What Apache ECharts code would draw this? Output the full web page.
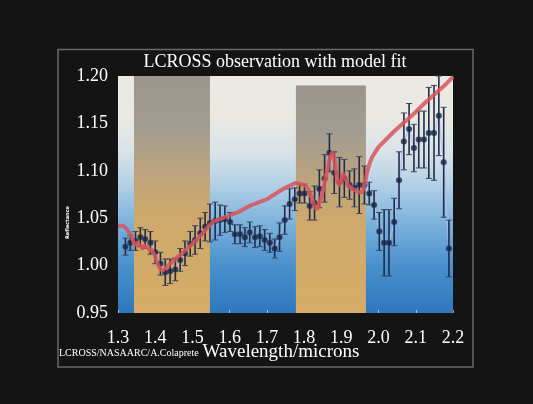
<!DOCTYPE html>
<html>
<head>
<meta charset="utf-8">
<script src="https://cdn.jsdelivr.net/npm/echarts@6/dist/echarts.min.js"></script>
<style>
html,body{margin:0;padding:0;background:#141414;}
#chart{width:533px;height:404px;}
</style>
</head>
<body>
<div id="chart"></div>
<script>
// Observed spectrum (wavelength in microns, relative reflectance, half error bar)
const wavelength = [1.320,1.333,1.347,1.360,1.373,1.387,1.400,1.414,1.427,1.440,1.454,1.467,1.480,1.494,1.507,1.521,1.534,1.547,1.561,1.574,
  1.587,1.601,1.614,1.628,1.641,1.654,1.668,1.681,1.694,1.708,1.721,1.734,1.748,1.761,1.775,1.788,1.801,1.815,1.828,1.841,
  1.855,1.868,1.881,1.895,1.908,1.922,1.935,1.948,1.962,1.975,1.988,2.002,2.015,2.028,2.042,2.055,2.068,2.082,2.095,2.108,
  2.122,2.135,2.149,2.162,2.175,2.189];
const ratio = [1.020,1.024,1.026,1.030,1.028,1.024,1.014,1.002,0.993,0.994,0.996,1.006,1.013,1.023,1.027,1.034,1.041,1.045,1.047,1.048,
  1.049,1.046,1.033,1.033,1.030,1.035,1.030,1.031,1.027,1.024,1.018,1.030,1.048,1.065,1.070,1.076,1.076,1.063,1.066,1.081,
  1.092,1.119,1.098,1.088,1.092,1.085,1.082,1.085,1.085,1.076,1.064,1.036,1.024,1.024,1.046,1.090,1.131,1.144,1.124,1.133,
  1.133,1.140,1.140,1.158,1.109,1.018];
const errHalf = [0.009,0.008,0.010,0.010,0.010,0.012,0.012,0.012,0.014,0.013,0.012,0.012,0.013,0.013,0.015,0.016,0.015,0.020,0.020,0.016,
  0.014,0.010,0.010,0.010,0.010,0.011,0.011,0.011,0.011,0.010,0.010,0.015,0.015,0.016,0.012,0.010,0.010,0.015,0.018,0.020,
  0.025,0.020,0.022,0.026,0.020,0.015,0.020,0.030,0.020,0.012,0.015,0.020,0.035,0.035,0.025,0.030,0.030,0.027,0.025,0.030,
  0.030,0.048,0.050,0.042,0.058,0.030];

// Model fit curve
const modelX = [1.300,1.310,1.320,1.330,1.340,1.345,1.350,1.355,1.360,1.365,1.370,1.375,1.380,1.385,1.390,1.395,1.400,1.405,1.410,1.415,
  1.420,1.430,1.440,1.450,1.460,1.470,1.480,1.490,1.500,1.510,1.520,1.530,1.540,1.550,1.560,1.580,1.600,1.620,1.640,1.660,
  1.680,1.700,1.720,1.740,1.760,1.770,1.780,1.790,1.800,1.810,1.820,1.825,1.830,1.835,1.840,1.850,1.860,1.870,1.875,1.880,
  1.885,1.890,1.895,1.900,1.905,1.910,1.920,1.930,1.940,1.950,1.955,1.960,1.965,1.970,1.980,1.990,2.000,2.020,2.040,2.060,
  2.080,2.100,2.120,2.140,2.160,2.180,2.200];
const modelY = [1.042,1.042,1.040,1.035,1.027,1.022,1.024,1.021,1.022,1.018,1.021,1.019,1.020,1.016,1.017,1.013,1.010,1.004,0.999,0.996,
  0.995,0.998,1.002,1.005,1.009,1.012,1.016,1.019,1.023,1.027,1.031,1.035,1.040,1.044,1.047,1.050,1.053,1.056,1.060,1.064,
  1.067,1.070,1.075,1.080,1.084,1.086,1.087,1.086,1.085,1.081,1.072,1.066,1.061,1.060,1.064,1.078,1.097,1.114,1.119,1.116,
  1.102,1.088,1.085,1.090,1.097,1.093,1.084,1.081,1.079,1.077,1.078,1.082,1.090,1.100,1.112,1.119,1.125,1.133,1.141,1.148,
  1.155,1.162,1.170,1.177,1.184,1.191,1.199];

// Absorption bands
const bandStart = [1.343, 1.778];
const bandEnd = [1.547, 1.966];
const bandTop = [1.20, 1.19];

// Axis settings
const xMin = 1.3, xMax = 2.2, xStep = 0.1;
const yMin = 0.95, yMax = 1.20, yStep = 0.05;

const chart = echarts.init(document.getElementById('chart'), null, {renderer: 'canvas'});
const serif = "'Liberation Serif', 'DejaVu Serif', serif";

const bandGradient = () => new echarts.graphic.LinearGradient(0, 0, 0, 1, [
  {offset: 0, color: '#9a948d'},
  {offset: 0.22, color: '#a39d90'},
  {offset: 0.42, color: '#bea47c'},
  {offset: 0.6, color: '#cfa96b'},
  {offset: 1, color: '#d6ac66'}
]);

const errData = wavelength.map((x, i) => [x, ratio[i] - errHalf[i], ratio[i] + errHalf[i]]);
const pts = wavelength.map((x, i) => [x, ratio[i]]);
const model = modelX.map((x, i) => [x, modelY[i]]);

const option = {
  backgroundColor: '#141414',
  animation: false,
  title: {
    text: 'LCROSS observation with model fit',
    left: 275, top: 53, textAlign: 'center', padding: 0,
    textStyle: {color: '#ffffff', fontFamily: serif, fontSize: 18, fontWeight: 'normal'}
  },
  grid: {
    left: 118, right: 80, top: 76, bottom: 91, show: true, borderWidth: 0,
    backgroundColor: new echarts.graphic.LinearGradient(0, 0, 0, 1, [
      {offset: 0, color: '#ebe9e2'},
      {offset: 0.18, color: '#e9e8e3'},
      {offset: 0.32, color: '#d9e3e7'},
      {offset: 0.46, color: '#b2d0e6'},
      {offset: 0.62, color: '#7cb2dc'},
      {offset: 0.8, color: '#4a90cd'},
      {offset: 1, color: '#2e77be'}
    ])
  },
  xAxis: {
    type: 'value', min: xMin, max: xMax, interval: xStep,
    axisLine: {show: false},
    axisTick: {show: true, inside: true, length: 3, lineStyle: {color: 'rgba(255,255,255,0.55)'}},
    splitLine: {show: false},
    axisLabel: {color: '#ffffff', fontFamily: serif, fontSize: 18, margin: 16,
      formatter: v => v.toFixed(1)}
  },
  yAxis: {
    type: 'value', min: yMin, max: yMax, interval: yStep,
    axisLine: {show: false},
    axisTick: {show: false},
    splitLine: {show: false},
    axisLabel: {color: '#ffffff', fontFamily: serif, fontSize: 18, margin: 10,
      formatter: v => v.toFixed(2)}
  },
  graphic: [
    {type: 'rect', shape: {x: 58, y: 49.5, width: 415, height: 317.5},
      style: {fill: 'none', stroke: '#6a6a6a', lineWidth: 1.5}, silent: true},
    {type: 'text', x: 59, y: 353, style: {text: 'LCROSS/NASAARC/A.Colaprete', fill: '#ffffff',
      font: "10px 'Liberation Serif'", textAlign: 'left', textVerticalAlign: 'middle'}},
    {type: 'text', x: 281, y: 352, style: {text: 'Wavelength/microns', fill: '#ffffff',
      font: "19px 'Liberation Serif'", textAlign: 'center', textVerticalAlign: 'middle'}},
    {type: 'text', x: 67.5, y: 222.5, rotation: Math.PI / 2, style: {text: 'Reflectance', fill: '#ffffff',
      font: "bold 5px 'DejaVu Sans'", textAlign: 'center', textVerticalAlign: 'middle'}}
  ],
  series: [
    {
      type: 'line', data: [], silent: true, z: 1,
      markArea: {
        silent: true,
        itemStyle: {opacity: 1},
        data: bandStart.map((s, i) => [
          {xAxis: s, yAxis: yMin, itemStyle: {color: bandGradient()}},
          {xAxis: bandEnd[i], yAxis: bandTop[i]}
        ])
      }
    },
    {
      type: 'line', data: pts, symbol: 'none', z: 2,
      lineStyle: {color: 'rgba(178,188,238,0.75)', width: 1.5}
    },
    {
      type: 'custom', z: 3, data: errData,
      renderItem: function (params, api) {
        const x = api.value(0);
        const top = api.coord([x, api.value(2)]);
        const bot = api.coord([x, api.value(1)]);
        const w = 3;
        return {
          type: 'group',
          children: [
            {type: 'line', shape: {x1: top[0], y1: top[1], x2: bot[0], y2: bot[1]},
              style: {stroke: '#1f2c4a', lineWidth: 1.6}},
            {type: 'line', shape: {x1: top[0] - w, y1: top[1], x2: top[0] + w, y2: top[1]},
              style: {stroke: '#3c4663', lineWidth: 1}},
            {type: 'line', shape: {x1: bot[0] - w, y1: bot[1], x2: bot[0] + w, y2: bot[1]},
              style: {stroke: '#3c4663', lineWidth: 1}}
          ]
        };
      }
    },
    {
      type: 'scatter', data: pts, symbolSize: 6, z: 4,
      itemStyle: {color: '#16223f', borderColor: 'rgba(90,110,160,0.6)', borderWidth: 0.5}
    },
    {
      type: 'line', data: model, symbol: 'none', z: 5, smooth: 0.2,
      lineStyle: {color: '#d9535b', width: 4, opacity: 0.85}
    }
  ]
};
chart.setOption(option);
</script>
</body>
</html>
